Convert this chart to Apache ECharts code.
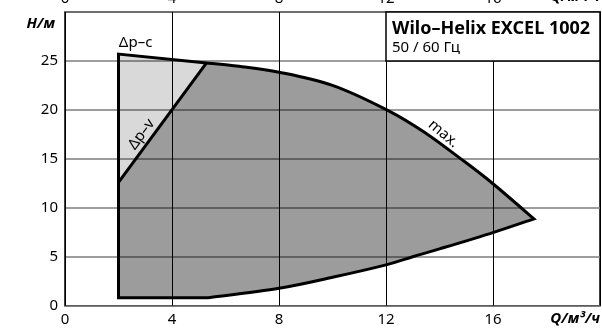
<!DOCTYPE html>
<html>
<head>
<meta charset="utf-8">
<script src="https://cdn.jsdelivr.net/npm/echarts@6/dist/echarts.min.js"></script>
<style>
  html, body { margin: 0; padding: 0; background: #fff; }
  #chart { width: 602px; height: 331px; }
</style>
</head>
<body>
<div id="chart"></div>
<script>
// Axis ticks
const qTicks = [0, 4, 8, 12, 16];
const hTicks = [0, 5, 10, 15, 20, 25];

// Operating field, points as [Q m³/h, H m]
const dpcLine = [[2.0, 25.7], [5.29, 24.8]];            // Δp-c limit
const dpvLine = [[2.0, 12.6], [5.29, 24.8]];            // Δp-v limit
const maxCurve = [[5.29, 24.8], [6.5, 24.45], [8, 23.85], [10, 22.5], [12.1, 19.9],
                  [13.5, 17.6], [14.8, 15.0], [16, 12.46], [17.53, 8.87]];
const minCurve = [[2.0, 0.82], [5.35, 0.82], [8, 1.78], [10, 2.9], [12, 4.17],
                  [13, 5.0], [14, 5.8], [16, 7.47], [17.53, 8.87]];

// Header box corners [Q, H]
const headerBox = [[12, 30], [20, 25]];
const headerTitle = 'Wilo–Helix EXCEL 1002';
const headerSub = '50 / 60 Гц';

// Curve captions: text and anchor [Q, H]
const captions = [
  { text: 'Δp–c', at: [2.64, 26.85] },
  { text: 'Δp–v', at: [2.86, 17.5] },
  { text: 'max.', at: [14.15, 17.55] }
];

const FONT = '"Noto Sans", "DejaVu Sans", sans-serif';

const chart = echarts.init(document.getElementById('chart'), null, { renderer: 'canvas' });

function pts(api, arr) { return arr.map(p => api.coord(p)); }

// Appends Catmull-Rom segments (as cubic Béziers) through pixel points p.
function smoothSegs(p) {
  let d = '';
  for (let i = 0; i < p.length - 1; i++) {
    const p0 = p[Math.max(i - 1, 0)], p1 = p[i], p2 = p[i + 1], p3 = p[Math.min(i + 2, p.length - 1)];
    const c1 = [p1[0] + (p2[0] - p0[0]) / 6, p1[1] + (p2[1] - p0[1]) / 6];
    const c2 = [p2[0] - (p3[0] - p1[0]) / 6, p2[1] - (p3[1] - p1[1]) / 6];
    d += ' C' + c1[0] + ' ' + c1[1] + ' ' + c2[0] + ' ' + c2[1] + ' ' + p2[0] + ' ' + p2[1];
  }
  return d;
}
const L = p => ' L' + p[0] + ' ' + p[1];
const M = p => 'M' + p[0] + ' ' + p[1];

function renderField(params, api) {
  const dpc = pts(api, dpcLine);
  const dpv = pts(api, dpvLine);
  const maxP = pts(api, maxCurve);
  const minP = pts(api, minCurve);
  const minTail = minP.slice(1);                 // curved part of the minimum line
  const maxRev = maxP.slice().reverse();

  // light triangle between Δp-v and Δp-c
  const lightPath = M(dpv[0]) + L(dpc[0]) + L(dpc[1]) + ' Z';
  // dark field: Δp-v, max. curve, min curve, left edge
  const darkPath = M(minP[0]) + L(dpv[0]) + L(maxP[0]) + smoothSegs(maxP) + smoothSegs(minTail.slice().reverse()) + L(minP[0]) + ' Z';
  // outer boundary
  const outlinePath = M(dpc[0]) + L(minP[0]) + L(minTail[0]) + smoothSegs(minTail) + smoothSegs(maxRev) + L(dpc[0]) + ' Z';

  const dpvAngle = -Math.atan2(dpv[1][1] - dpv[0][1], dpv[1][0] - dpv[0][0]);

  const bx0 = api.coord(headerBox[0]);
  const bx1 = api.coord(headerBox[1]);

  const textStyle = (t, font, extra) => Object.assign({
    text: t, fill: '#000', font: font,
    align: 'center', verticalAlign: 'middle'
  }, extra || {});

  const c0 = api.coord(captions[0].at);
  const c1 = api.coord(captions[1].at);
  const c2 = api.coord(captions[2].at);
  const capFont = '15px ' + FONT;

  return {
    type: 'group',
    children: [
      { type: 'path', shape: { pathData: lightPath }, style: { fill: 'rgba(0,0,0,0.15)' } },
      { type: 'path', shape: { pathData: darkPath }, style: { fill: 'rgba(0,0,0,0.39)' } },
      { type: 'path', shape: { pathData: outlinePath },
        style: { fill: null, stroke: '#000', lineWidth: 3, lineJoin: 'miter' } },
      { type: 'polyline', shape: { points: dpv },
        style: { fill: null, stroke: '#000', lineWidth: 3 } },
      { type: 'text', x: c0[0], y: c0[1], style: textStyle(captions[0].text, capFont) },
      { type: 'text', x: c1[0], y: c1[1], rotation: dpvAngle, style: textStyle(captions[1].text, capFont) },
      { type: 'text', x: c2[0], y: c2[1], rotation: -40 * Math.PI / 180, style: textStyle(captions[2].text, capFont) },
      { type: 'rect', shape: { x: bx0[0], y: bx0[1], width: bx1[0] - bx0[0], height: bx1[1] - bx0[1] },
        style: { fill: '#fff', stroke: '#000', lineWidth: 1.5 } },
      { type: 'text', x: bx0[0] + 6, y: bx0[1] + 16.5,
        style: textStyle(headerTitle, 'bold 18px ' + FONT, { align: 'left' }) },
      { type: 'text', x: bx0[0] + 6, y: bx0[1] + 36,
        style: textStyle(headerSub, '15px ' + FONT, { align: 'left' }) }
    ]
  };
}

const labelFont = { fontFamily: FONT, fontSize: 15, color: '#000' };

chart.setOption({
  animation: false,
  grid: {
    left: 65, right: 2, top: 12, bottom: 25.3,
    outerBoundsMode: 'none', containLabel: false,
    show: true, borderColor: '#000', borderWidth: 1.5, backgroundColor: 'transparent'
  },
  xAxis: [
    {
      type: 'value', min: 0, max: 20, interval: 4, position: 'bottom',
      axisLine: { show: false }, axisTick: { show: false },
      axisLabel: Object.assign({ margin: 7, formatter: v => qTicks.includes(v) ? String(v) : '' }, labelFont),
      splitLine: { show: true, lineStyle: { color: '#000', width: 1 } }
    },
    {
      type: 'value', min: 0, max: 20, interval: 4, position: 'top',
      axisLine: { show: false }, axisTick: { show: false },
      axisLabel: Object.assign({ margin: 6, formatter: v => qTicks.includes(v) ? String(v) : '' }, labelFont),
      splitLine: { show: false }
    }
  ],
  yAxis: {
    type: 'value', min: 0, max: 30, interval: 5,
    axisLine: { show: false }, axisTick: { show: false },
    axisLabel: Object.assign({ margin: 7, formatter: v => hTicks.includes(v) ? String(v) : '' }, labelFont),
    splitLine: { show: true, lineStyle: { color: '#7d7d7d', width: 1.5 } }
  },
  series: [
    { type: 'custom', xAxisIndex: 0, yAxisIndex: 0, data: [[0, 0]], renderItem: renderField, silent: true, clip: false }
  ],
  graphic: [
    { type: 'text', right: 547, top: 16,
      style: { text: 'H/м', font: 'italic bold 15px ' + FONT, fill: '#000' } },
    { type: 'text', right: 2, top: 311,
      style: { text: 'Q/м³/ч', font: 'italic bold 15px ' + FONT, fill: '#000' } },
    { type: 'text', right: 2, top: -11,
      style: { text: 'Q/м³/ч', font: 'italic bold 15px ' + FONT, fill: '#000' } }
  ]
});
</script>
</body>
</html>
